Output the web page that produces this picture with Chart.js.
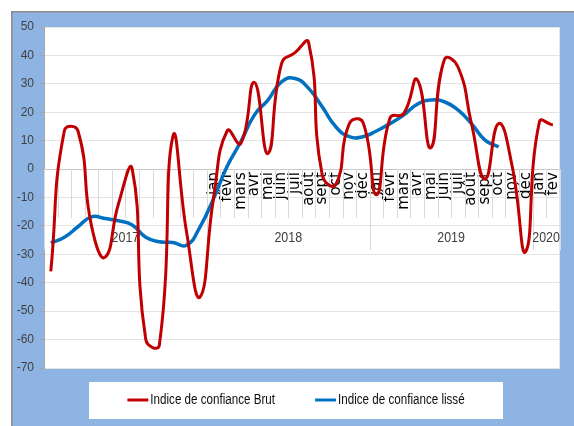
<!DOCTYPE html>
<html><head><meta charset="utf-8">
<script src="https://cdn.jsdelivr.net/npm/chart.js@4/dist/chart.umd.min.js"></script>
<style>html,body{margin:0;padding:0;background:#fff;overflow:hidden}#wrap{position:absolute;left:0;top:0;width:574px;height:426px}</style>
</head><body><div id="wrap"><canvas id="c" width="574" height="426"></canvas></div>
<script>
// ---- data ----
const labels2017 = ['', '', '', '', '', '', '', '', '', '', '', ''];
const labels2018 = ['jan','févr','mars','avr','mai','juin','juil','août','sept','oct','nov','déc'];
const labels2019 = ['jan','févr','mars','avr','mai','juin','juil','août','sept','oct','nov','déc'];
const labels2020 = ['jan','fev'];
const yearLabels = ['2017','2018','2019','2020'];
const brutName = 'Indice de confiance Brut';
const lisseName = 'Indice de confiance lissé';
const brutValues = [-36, 13.5, 13.5, -20, -31, -12, 0, -60, -62, 11.5, -22, -45,
  -10, 13.5, 9, 30.5, 5.5, 37, 41, 44.5, -2, -5.5, 16, 16.5,
  -9, 18, 19.5, 31.5, 7.5, 38.5, 36, 16, -3.5, 16, 1, -29,
  16.5, 15.5];
const lisseValues = [-26, -24, -20.3, -16.8, -17.4, -18.2, -19.7, -24, -25.6, -25.8, -26.8, -20.3,
  -10.3, 1, 9.6, 19, 24.3, 30.7, 31.9, 28.4, 21.9, 14.9, 11.4, 11.4,
  13.4, 16, 19, 22.8, 24.3, 23.7, 20.8, 16, 10.2, 7.8, null, null,
  null, null];
const yMin = -70, yMax = 50, yStep = 10;

const yearGroups = [labels2017, labels2018, labels2019, labels2020];
const categories = [].concat(...yearGroups);

const sans = '"Liberation Sans", Arial, sans-serif';
const SX = 0.83; // horizontal condensing for Calibri-like text

function condensedText(ctx, text, x, y, align) {
  const w = ctx.measureText(text).width * SX;
  let left = x;
  if (align === 'center') left = x - w / 2;
  else if (align === 'right') left = x - w;
  ctx.save();
  ctx.translate(left, y);
  ctx.scale(SX, 1);
  ctx.textAlign = 'left';
  ctx.fillText(text, 0, 0);
  ctx.restore();
  return w;
}

const framePlugin = {
  id: 'frame',
  beforeDraw(chart) {
    const {ctx, chartArea: a} = chart;
    ctx.save();
    ctx.fillStyle = '#ffffff'; ctx.fillRect(0, 0, 574, 426);
    ctx.fillStyle = '#8c8c8c'; ctx.fillRect(11, 11, 563, 415);
    ctx.fillStyle = '#8EB4E3'; ctx.fillRect(12.5, 12.5, 562, 414);
    ctx.fillStyle = '#ffffff';
    ctx.fillRect(a.left, a.top, a.right - a.left, a.bottom - a.top);
    ctx.fillRect(89, 382, 414, 37);
    ctx.restore();
  },
  beforeDatasetsDraw(chart) {
    const {ctx} = chart;
    const xs = chart.scales.x, ys = chart.scales.y;
    const y0 = ys.getPixelForValue(0);
    const n = categories.length;
    const bound = i => i === 0 ? xs.left : (i === n ? xs.right : (xs.getPixelForValue(i - 1) + xs.getPixelForValue(i)) / 2);
    const groupEnds = [];
    let acc = 0;
    yearGroups.forEach(g => { acc += g.length; groupEnds.push(acc); });
    ctx.save();
    ctx.strokeStyle = '#d9d9d9';
    ctx.lineWidth = 1;
    for (let i = 0; i <= n; i++) {
      const bx = Math.round(bound(i)) + 0.5;
      const isGroup = i === 0 || groupEnds.includes(i);
      ctx.beginPath();
      ctx.moveTo(bx, y0);
      ctx.lineTo(bx, y0 + (isGroup ? 81 : 49));
      ctx.stroke();
    }
    // year labels
    ctx.fillStyle = '#404040';
    ctx.font = '15px ' + sans;
    ctx.textBaseline = 'middle';
    let start = 0;
    yearGroups.forEach((g, k) => {
      const end = start + g.length - 1;
      const cx = (xs.getPixelForValue(start) + xs.getPixelForValue(end)) / 2;
      condensedText(ctx, yearLabels[k], cx, y0 + 69, 'center');
      start += g.length;
    });
    ctx.restore();
  },
  afterDraw(chart) {
    const {ctx} = chart;
    ctx.save();
    ctx.font = '14px ' + sans;
    ctx.textBaseline = 'middle';
    const items = chart.data.datasets.map(d => ({label: d.label, color: d.borderColor, w: ctx.measureText(d.label).width * SX}));
    const sample = 21, gap = 2, space = 40;
    let total = 0;
    items.forEach((it, i) => { total += sample + gap + it.w + (i ? space : 0); });
    let x = (89 + 503) / 2 - total / 2;
    const cy = 400;
    items.forEach((it) => {
      ctx.strokeStyle = it.color; ctx.lineWidth = 3;
      ctx.beginPath(); ctx.moveTo(x, cy); ctx.lineTo(x + sample, cy); ctx.stroke();
      ctx.fillStyle = '#0d0d0d';
      condensedText(ctx, it.label, x + sample + gap, cy, 'left');
      x += sample + gap + it.w + space;
    });
    ctx.restore();
  }
};

new Chart(document.getElementById('c'), {
  type: 'line',
  data: {
    labels: categories,
    datasets: [
      {label: brutName, data: brutValues, borderColor: '#C00000', borderWidth: 3, pointRadius: 0, tension: 0.5, fill: false},
      {label: lisseName, data: lisseValues, borderColor: '#0070C0', borderWidth: 3.5, pointRadius: 0, tension: 0.5, fill: false, spanGaps: false}
    ]
  },
  options: {
    responsive: false,
    animation: false,
    layout: {padding: {left: 0, top: 27, right: 9, bottom: 58}},
    plugins: {legend: {display: false}, tooltip: {enabled: false}},
    scales: {
      x: {
        type: 'category',
        position: {y: 0},
        offset: true,
        grid: {display: true, drawOnChartArea: false, drawTicks: false, offset: true},
        border: {display: true, color: '#c8c8c8', width: 1},
        ticks: {minRotation: 90, maxRotation: 90, autoSkip: false, padding: 3,
          font: {family: '"DejaVu Sans", Verdana, sans-serif', size: 15}, color: '#000000'},
        afterFit(s) { s.height = 0; }
      },
      y: {
        min: yMin, max: yMax,
        ticks: {stepSize: yStep, padding: 6, font: {family: sans, size: 12}, color: '#404040'},
        grid: {color: '#e3e3e3', tickLength: 4, tickColor: '#a6a6a6'},
        border: {display: true, color: '#a6a6a6'},
        afterFit(s) { s.width = 44; }
      }
    }
  },
  plugins: [framePlugin]
});
</script></body></html>
